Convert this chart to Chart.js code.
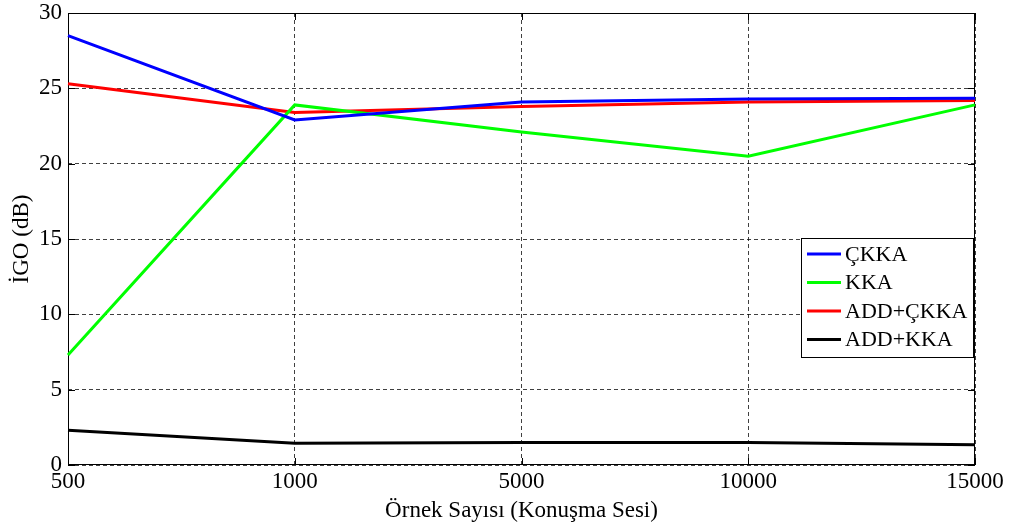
<!DOCTYPE html>
<html>
<head>
<meta charset="utf-8">
<script src="https://cdn.jsdelivr.net/npm/chart.js@4/dist/chart.umd.min.js"></script>
<style>
  html, body { margin: 0; padding: 0; background: #fff; }
  #wrap { width: 1011px; height: 525px; position: relative; }
</style>
</head>
<body>
<div id="wrap"><canvas id="igoChart"></canvas></div>
<script>
// Sample counts on the x axis (category scale)
const sampleCounts = ['500', '1000', '5000', '10000', '15000'];

// IGO values in dB
const ckka      = [28.5, 22.9, 24.1, 24.3, 24.35];
const kka       = [7.3, 23.9, 22.1, 20.5, 23.9];
const addCkka   = [25.3, 23.4, 23.8, 24.1, 24.2];
const addKka    = [2.3, 1.45, 1.5, 1.5, 1.35];

const seriesNames  = ['ÇKKA', 'KKA', 'ADD+ÇKKA', 'ADD+KKA'];
const seriesColors = ['#0000ff', '#00ff00', '#ff0000', '#000000'];

const FONT = "'Liberation Serif', 'Times New Roman', serif";

// solid frame with small inward tick marks, like the matlab plot
const framePlugin = {
    id: 'frame',
    beforeDatasetsDraw(chart) {
        const { ctx, chartArea: a, scales } = chart;
        ctx.save();
        ctx.strokeStyle = '#000';
        ctx.lineWidth = 1;
        ctx.strokeRect(a.left + 0.5, a.top + 0.5, a.right - a.left - 1, a.bottom - a.top - 1);
        ctx.beginPath();
        scales.y.ticks.forEach((t, i) => {
            const y = Math.round(scales.y.getPixelForTick(i)) + 0.5;
            ctx.moveTo(a.left, y); ctx.lineTo(a.left + 7, y);
            ctx.moveTo(a.right, y); ctx.lineTo(a.right - 7, y);
        });
        scales.x.ticks.forEach((t, i) => {
            const x = Math.round(scales.x.getPixelForTick(i)) + 0.5;
            ctx.moveTo(x, a.bottom); ctx.lineTo(x, a.bottom - 7);
            ctx.moveTo(x, a.top); ctx.lineTo(x, a.top + 7);
        });
        ctx.stroke();
        ctx.restore();
    }
};

// legend box drawn inside the plot area
const boxLegend = {
    id: 'boxLegend',
    afterDatasetsDraw(chart) {
        const { ctx, chartArea: a } = chart;
        const x0 = 801, y0 = 238, w = a.right - 2 - x0, h = 119;
        ctx.save();
        ctx.fillStyle = '#fff';
        ctx.fillRect(x0, y0, w, h);
        ctx.strokeStyle = '#000';
        ctx.lineWidth = 1;
        ctx.strokeRect(x0 + 0.5, y0 + 0.5, w, h);
        ctx.font = '22px ' + FONT;
        ctx.textBaseline = 'middle';
        chart.data.datasets.forEach((ds, i) => {
            const cy = 254 + i * 28.5;
            ctx.strokeStyle = ds.borderColor;
            ctx.lineWidth = 3;
            ctx.beginPath();
            ctx.moveTo(807, cy); ctx.lineTo(841, cy);
            ctx.stroke();
            ctx.fillStyle = '#000';
            ctx.fillText(ds.label, 845, cy + 1);
        });
        ctx.restore();
    }
};

function initChart() {
    const ctx = document.getElementById('igoChart').getContext('2d');
    const allSeries = [ckka, kka, addCkka, addKka];
    new Chart(ctx, {
        type: 'line',
        data: {
            labels: sampleCounts,
            datasets: allSeries.map((vals, i) => ({
                label: seriesNames[i],
                data: vals,
                borderColor: seriesColors[i],
                backgroundColor: seriesColors[i],
                borderWidth: 3,
                pointRadius: 0,
                tension: 0,
                fill: false
            }))
        },
        options: {
            responsive: true,
            maintainAspectRatio: false,
            animation: false,
            layout: { padding: { top: 13, right: 36, left: 0, bottom: 0 } },
            plugins: {
                legend: { display: false },
                tooltip: { enabled: false }
            },
            scales: {
                x: {
                    offset: false,
                    afterFit: s => {
                        s.height = 60;
                        s.paddingLeft = 0; s.paddingRight = 0;
                    },
                    grid: { color: 'rgba(0,0,0,0.75)', lineWidth: 1, drawTicks: false },
                    border: { display: false, dash: [4, 3] },
                    ticks: { color: '#000', padding: 3, maxRotation: 0, font: { family: FONT, size: 23 } },
                    title: {
                        display: true,
                        text: 'Örnek Sayısı (Konuşma Sesi)',
                        color: '#000',
                        padding: { top: 5, bottom: 0 },
                        font: { family: FONT, size: 23 }
                    }
                },
                y: {
                    min: 0,
                    max: 30,
                    afterFit: s => {
                        s.width = 68;
                        s.paddingTop = 0; s.paddingBottom = 0;
                    },
                    grid: { color: 'rgba(0,0,0,0.75)', lineWidth: 1, drawTicks: false },
                    border: { display: false, dash: [4, 3] },
                    ticks: { stepSize: 5, color: '#000', padding: 6, font: { family: FONT, size: 23 } },
                    title: {
                        display: true,
                        text: 'İGO (dB)',
                        color: '#000',
                        padding: { top: 8, bottom: 0 },
                        font: { family: FONT, size: 23 }
                    }
                }
            }
        },
        plugins: [framePlugin, boxLegend]
    });
}

document.addEventListener('DOMContentLoaded', initChart);
</script>
</body>
</html>
